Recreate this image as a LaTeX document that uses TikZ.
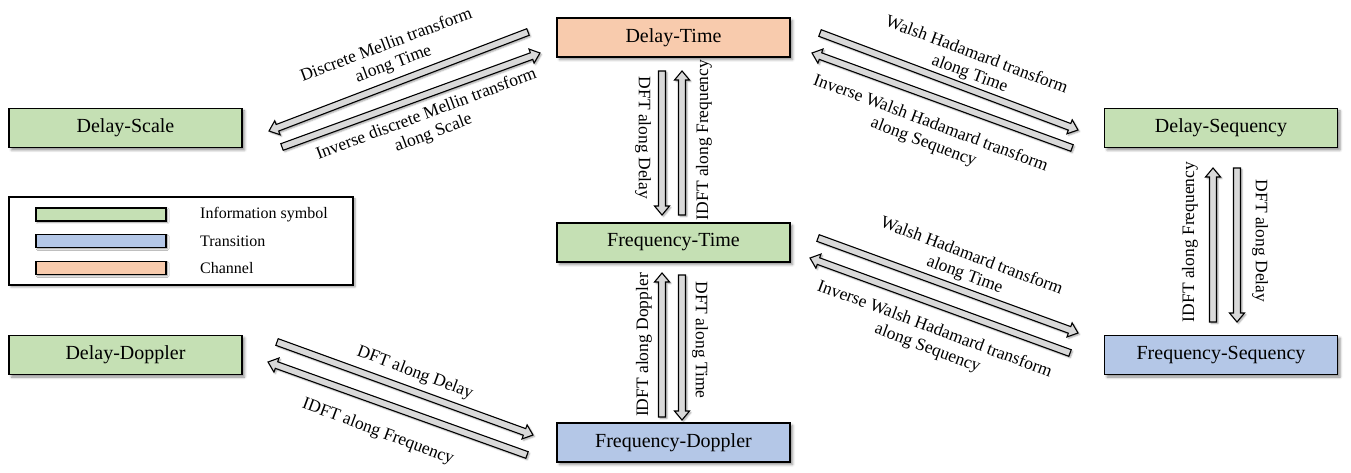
\documentclass[tikz,border=0pt]{standalone}
\usepackage{fontspec}
\setmainfont{Liberation Serif}
\usetikzlibrary{calc,shadows,shadows.blur}

\definecolor{infogreen}{HTML}{C5E0B4}
\definecolor{transblue}{HTML}{B4C7E7}
\definecolor{chanpeach}{HTML}{F8CBAD}
\definecolor{arrowgray}{HTML}{D9D9D9}

\tikzset{
  domainbox/.style={draw=black, line width=1.8pt, minimum width=233pt, minimum height=39pt,
    inner sep=0pt, outer sep=0pt, font=\fontsize{20}{24}\selectfont,
    blur shadow={shadow xshift=2.5pt, shadow yshift=-2.5pt, shadow blur radius=2.5pt, shadow opacity=45}},
  swatch/.style={draw=black, line width=1.8pt, minimum width=130pt, minimum height=13pt,
    inner sep=0pt, outer sep=0pt,
    blur shadow={shadow xshift=1.5pt, shadow yshift=-1.5pt, shadow blur radius=1.5pt, shadow opacity=40}},
  legtext/.style={anchor=west, inner sep=0pt, font=\fontsize{16}{19}\selectfont},
  arrowbody/.style={draw=black, line width=1.1pt, fill=arrowgray, line join=miter,
    blur shadow={shadow xshift=1.5pt, shadow yshift=-1.5pt, shadow blur radius=1.5pt, shadow opacity=35}},
  lbl/.style={inner sep=0pt, align=center, font=\fontsize{17.5}{20}\selectfont},
  hollowarrow/.pic={
    \path[arrowbody] (0,-3.5) -- ({#1-9},-3.5) -- ({#1-9},-7.5) -- (#1,0)
      -- ({#1-9},7.5) -- ({#1-9},3.5) -- (0,3.5) -- cycle;
  }
}

% hollow block arrow from a tail coordinate to a tip coordinate
\newcommand\fatlink[2]{%
  \path let \p1=($(#2)-(#1)$), \n1={atan2(\y1,\x1)}, \n2={veclen(\x1,\y1)} in
    (#1) pic[rotate=\n1] {hollowarrow=\n2};}

\begin{document}
\begin{tikzpicture}[x=1pt, y=1pt]
\useasboundingbox (0,0) rectangle (1351,472);

% domains
\node[domainbox, fill=chanpeach]  (dt)   at (673.5,434.5) {Delay-Time};
\node[domainbox, fill=infogreen]  (ft)   at (673.5,229.5) {Frequency-Time};
\node[domainbox, fill=transblue]  (fd)   at (673.5,29.5)  {Frequency-Doppler};
\node[domainbox, fill=infogreen]  (ds)   at (125.5,344)   {Delay-Scale};
\node[domainbox, fill=infogreen]  (dd)   at (125.5,117)   {Delay-Doppler};
\node[domainbox, fill=infogreen]  (dseq) at (1221,344)    {Delay-Sequency};
\node[domainbox, fill=transblue]  (fseq) at (1221,117)    {Frequency-Sequency};

% legend
\node[draw=black, line width=1.5pt, minimum width=344pt, minimum height=88pt, inner sep=0pt,
  blur shadow={shadow xshift=2pt, shadow yshift=-2pt, shadow blur radius=2pt, shadow opacity=40},
  fill=white] (legend) at (181,231) {};
\node[swatch, fill=infogreen] (sw1) at (101,257.5) {};
\node[swatch, fill=transblue] (sw2) at (101,231)   {};
\node[swatch, fill=chanpeach] (sw3) at (101,204)   {};
\node[legtext] (lt1) at (200,257.5) {Information symbol};
\node[legtext] (lt2) at (200,231)   {Transition};
\node[legtext] (lt3) at (200,204)   {Channel};

% arrow end points
\coordinate (a1s) at (528,440);  \coordinate (a1e) at (269,341);
\coordinate (a2s) at (282,325);  \coordinate (a2e) at (540,419);
\coordinate (b1s) at (820,439);  \coordinate (b1e) at (1078,342);
\coordinate (b2s) at (1072,324); \coordinate (b2e) at (812,419);
\coordinate (c1s) at (818,234);  \coordinate (c1e) at (1078,139);
\coordinate (c2s) at (1070,119); \coordinate (c2e) at (810,214);
\coordinate (d1s) at (277,130);  \coordinate (d1e) at (533,37);
\coordinate (d2s) at (527,17);   \coordinate (d2e) at (268,110);
\coordinate (v1s) at (662,401);  \coordinate (v1e) at (662,257);
\coordinate (v2s) at (682,257);  \coordinate (v2e) at (682,401);
\coordinate (v3s) at (662,55);   \coordinate (v3e) at (662,199);
\coordinate (v4s) at (682,197);  \coordinate (v4e) at (682,52);
\coordinate (v5s) at (1213,150); \coordinate (v5e) at (1213,304);
\coordinate (v6s) at (1237,304); \coordinate (v6e) at (1237,150);

% Delay-Time <-> Delay-Scale
\fatlink{a1s}{a1e}
\fatlink{a2s}{a2e}
\node[lbl, rotate=20.5] (la1) at (390,417) {Discrete Mellin transform\\along Time};
\node[lbl, rotate=20.5] (la2) at (430,348) {Inverse discrete Mellin transform\\along Scale};

% Delay-Time <-> Delay-Sequency
\fatlink{b1s}{b1e}
\fatlink{b2s}{b2e}
\node[lbl, rotate=-20.5] (lb1) at (973,407) {Walsh Hadamard transform\\along Time};
\node[lbl, rotate=-20.5] (lb2) at (927,339) {Inverse Walsh Hadamard transform\\along Sequency};

% Frequency-Time <-> Frequency-Sequency
\fatlink{c1s}{c1e}
\fatlink{c2s}{c2e}
\node[lbl, rotate=-20.5] (lc1) at (968,206) {Walsh Hadamard transform\\along Time};
\node[lbl, rotate=-20.5] (lc2) at (931,133) {Inverse Walsh Hadamard transform\\along Sequency};

% Delay-Doppler <-> Frequency-Doppler
\fatlink{d1s}{d1e}
\fatlink{d2s}{d2e}
\node[lbl, rotate=-20.5] (ld1) at (415,99) {DFT along Delay};
\node[lbl, rotate=-20.5] (ld2) at (378,40) {IDFT along Frequency};

% Delay-Time <-> Frequency-Time
\fatlink{v1s}{v1e}
\fatlink{v2s}{v2e}
\node[lbl, rotate=-90] (lv1) at (643,334) {DFT along Delay};
\node[lbl, rotate=90]  (lv2) at (704,332) {IDFT along Frequency};

% Frequency-Time <-> Frequency-Doppler
\fatlink{v3s}{v3e}
\fatlink{v4s}{v4e}
\node[lbl, rotate=90]  (lv3) at (644,127) {IDFT along Doppler};
\node[lbl, rotate=-90] (lv4) at (700,132) {DFT along Time};

% Delay-Sequency <-> Frequency-Sequency
\fatlink{v5s}{v5e}
\fatlink{v6s}{v6e}
\node[lbl, rotate=90]  (lv5) at (1190,230) {IDFT along Frequency};
\node[lbl, rotate=-90] (lv6) at (1260,231) {DFT along Delay};
\end{tikzpicture}
\end{document}
